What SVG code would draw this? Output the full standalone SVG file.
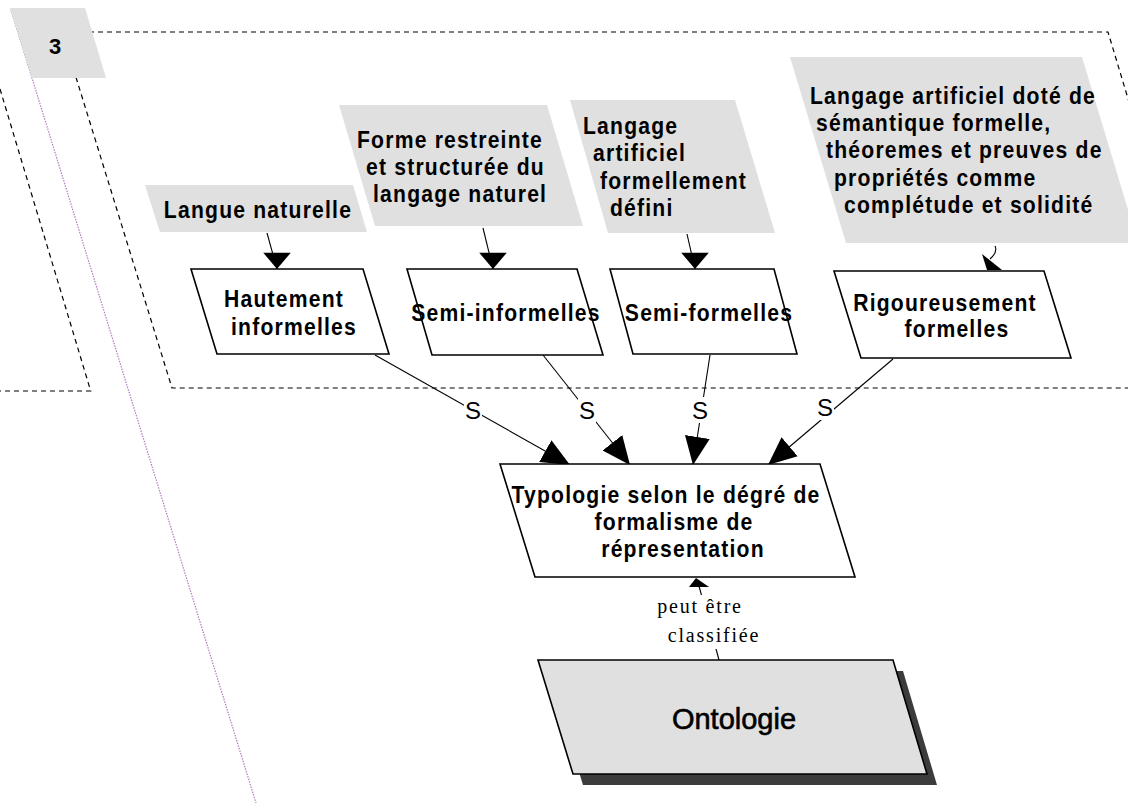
<svg xmlns="http://www.w3.org/2000/svg" width="1128" height="803" viewBox="0 0 1128 803">
  <style>
    .frame { fill: none; stroke: #000; stroke-width: 1.2; stroke-dasharray: 5 4; }
    .guide { fill: none; stroke: #b07cc0; stroke-width: 1.2; stroke-dasharray: 1.5 1.2; }
    .src { fill: #e0e0e0; stroke: none; }
    .box { fill: #fff; stroke: #000; stroke-width: 1.6; }
    .onto { fill: #e0e0e0; stroke: #000; stroke-width: 1.6; }
    .shadow { fill: #3c3c3c; }
    .t { font-family: "Liberation Sans", Arial, sans-serif; font-weight: bold; font-size: 23px; letter-spacing: 1.3px; fill: #000; }
    .mid { text-anchor: middle; }
    .link { fill: none; stroke: #000; stroke-width: 1.1; }
    .lab { font-family: "Liberation Sans", Arial, sans-serif; font-size: 24px; fill: #000; text-anchor: middle; }
    .rel { font-family: "Liberation Serif", "Times New Roman", serif; font-size: 20px; letter-spacing: 1.8px; fill: #000; text-anchor: middle; }
    .onto-t { font-family: "Liberation Sans", Arial, sans-serif; font-size: 29px; fill: #000; stroke: #000; stroke-width: 0.6; text-anchor: middle; }
  </style>
  <defs>
    <marker id="headDown" markerUnits="userSpaceOnUse" markerWidth="30" markerHeight="30" viewBox="-14 -12 15 24" refX="0" refY="0" orient="90">
      <path d="M0,0 L-13,-11 L-13,11 Z" fill="#000"/>
    </marker>
    <marker id="head" markerUnits="userSpaceOnUse" markerWidth="30" markerHeight="30" viewBox="-17 -8 18 16" refX="0" refY="0" orient="auto">
      <path d="M0,0 L-17,-7.5 L-17,7.5 Z" fill="#000"/>
    </marker>
  </defs>

  <rect width="1128" height="803" fill="#fff"/>

  <!-- swimlane frames -->
  <g id="frames">
    <path class="guide" d="M11,10 L256,803"/>
    <path class="frame" d="M0,89 L90.7,391 L-6,391"/>
    <path class="frame" d="M62,32 L1108,32 L1215,388 L172,388 Z"/>
    <g id="lane-tab">
      <polygon points="10,8 85,8 106,78 32,78" fill="#e0e0e0"/>
      <text x="55" y="54" style="font-family:'Liberation Sans',Arial,sans-serif;font-weight:bold;font-size:22px;text-anchor:middle">3</text>
    </g>
  </g>

  <!-- connectors -->
  <g id="connectors">
    <path class="link" d="M267,233 L277,269" marker-end="url(#headDown)"/>
    <path class="link" d="M483,228 L493,269" marker-end="url(#headDown)"/>
    <path class="link" d="M687,234 L695,269" marker-end="url(#headDown)"/>
    <path class="link" d="M995,246 Q998,252 990,259"/>
    <polygon points="982,254 987,270 1002,270" fill="#000"/>

    <path class="link" d="M375,355 L570,465" marker-end="url(#head)"/>
    <path class="link" d="M543,355 L630,465" marker-end="url(#head)"/>
    <path class="link" d="M710,355 L693,465" marker-end="url(#head)"/>
    <path class="link" d="M893,359 L768,465" marker-end="url(#head)"/>

    <rect x="464" y="397" width="18" height="26" fill="#fff"/>
    <rect x="578" y="397" width="18" height="26" fill="#fff"/>
    <rect x="691" y="397" width="18" height="26" fill="#fff"/>
    <rect x="816" y="394" width="18" height="26" fill="#fff"/>
    <text class="lab" x="473" y="419">S</text>
    <text class="lab" x="587" y="419">S</text>
    <text class="lab" x="700" y="419">S</text>
    <text class="lab" x="825" y="416">S</text>

    <path class="link" d="M699,586 L719,660"/>
    <polygon points="696,578 689,587 709,587" fill="#000"/>
    <rect x="650" y="595" width="112" height="54" fill="#fff"/>
    <text class="rel" x="700" y="613">peut être</text>
    <text class="rel" x="714" y="642">classifiée</text>
  </g>

  <!-- language sources -->
  <g id="src-langue-naturelle">
    <polygon class="src" points="145,185 353,185 367,232 160,232"/>
    <text class="t mid" transform="translate(258,218) scale(0.92,1)">Langue naturelle</text>
  </g>
  <g id="src-forme-restreinte">
    <polygon class="src" points="339,105 547,105 583,226 375,226"/>
    <text class="t" transform="translate(357,148) scale(0.92,1)">Forme restreinte</text>
    <text class="t" transform="translate(366,175) scale(0.92,1)">et structurée du</text>
    <text class="t" transform="translate(373,202) scale(0.92,1)">langage naturel</text>
  </g>
  <g id="src-langage-artificiel">
    <polygon class="src" points="570,100 735,100 775,233 608,233"/>
    <text class="t" transform="translate(583,134) scale(0.92,1)">Langage</text>
    <text class="t" transform="translate(593,161) scale(0.92,1)">artificiel</text>
    <text class="t" transform="translate(600,189) scale(0.92,1)">formellement</text>
    <text class="t" transform="translate(610,216) scale(0.92,1)">défini</text>
  </g>
  <g id="src-semantique-formelle">
    <polygon class="src" points="790,57 1082,57 1138,243 846,243"/>
    <text class="t" transform="translate(810,104) scale(0.92,1)">Langage artificiel doté de</text>
    <text class="t" transform="translate(816,131) scale(0.92,1)">sémantique formelle,</text>
    <text class="t" transform="translate(826,158) scale(0.92,1)">théoremes et preuves de</text>
    <text class="t" transform="translate(834,186) scale(0.92,1)">propriétés comme</text>
    <text class="t" transform="translate(844,213) scale(0.92,1)">complétude et solidité</text>
  </g>

  <!-- formalism levels -->
  <g id="node-hautement-informelles">
    <polygon class="box" points="191,269 363,269 389,354 217,354"/>
    <text class="t mid" transform="translate(284,307) scale(0.92,1)">Hautement</text>
    <text class="t mid" transform="translate(294,335) scale(0.92,1)">informelles</text>
  </g>
  <g id="node-semi-informelles">
    <polygon class="box" points="407,269 577,269 603,355 432,355"/>
    <text class="t mid" transform="translate(506,321) scale(0.92,1)">Semi-informelles</text>
  </g>
  <g id="node-semi-formelles">
    <polygon class="box" points="610,269 774,269 797,354 633,354"/>
    <text class="t mid" transform="translate(709,321) scale(0.92,1)">Semi-formelles</text>
  </g>
  <g id="node-rigoureusement-formelles">
    <polygon class="box" points="834,271 1044,271 1071,358 861,358"/>
    <text class="t mid" transform="translate(945,311) scale(0.92,1)">Rigoureusement</text>
    <text class="t mid" transform="translate(957,337) scale(0.92,1)">formelles</text>
  </g>

  <!-- typology -->
  <g id="node-typologie">
    <polygon class="box" points="500,464 820,464 855,577 535,577"/>
    <text class="t mid" transform="translate(666,503) scale(0.92,1)">Typologie selon le dégré de</text>
    <text class="t mid" transform="translate(674,530) scale(0.92,1)">formalisme de</text>
    <text class="t mid" transform="translate(683,557) scale(0.92,1)">répresentation</text>
  </g>

  <!-- root concept -->
  <g id="node-ontologie">
    <polygon class="shadow" points="548,671 903,671 937,785 583,785"/>
    <polygon class="onto" points="538,660 893,660 927,774 573,774"/>
    <text class="onto-t" x="734" y="729">Ontologie</text>
  </g>
</svg>
